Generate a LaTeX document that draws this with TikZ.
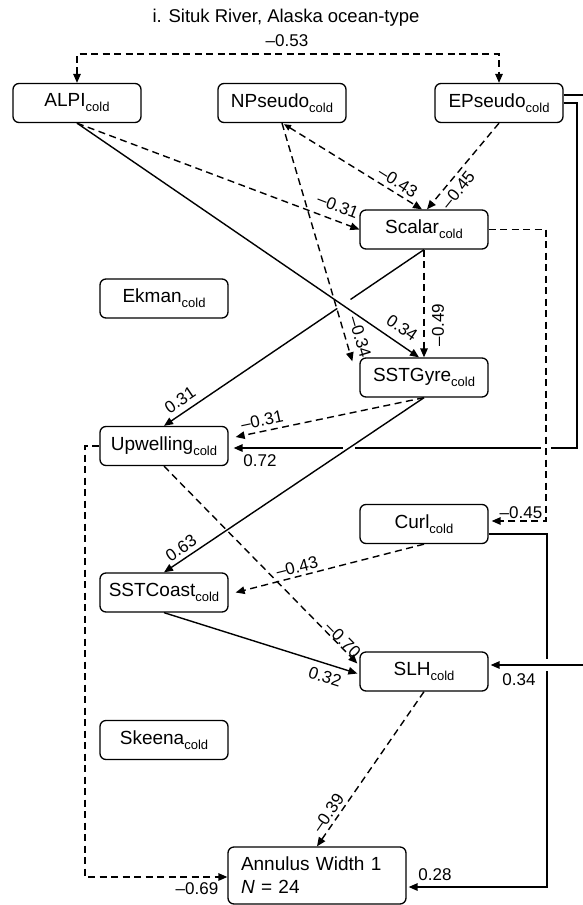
\documentclass[tikz,border=0pt]{standalone}
\usepackage{fontspec}
\setmainfont{Liberation Sans}
\usetikzlibrary{arrows.meta,calc}
\newcommand\cld{\raisebox{-5pt}{\fontsize{13}{13}\selectfont cold}}
\begin{document}
\begin{tikzpicture}[x=1pt,y=-1pt,
  box/.style={draw, line width=1.3pt, rounded corners=6pt, minimum width=128pt, minimum height=39pt, inner sep=0pt, font=\fontsize{19}{22}\selectfont},
  link/.style={line width=1.4pt, -{Triangle[length=9pt,width=7.5pt]}},
  dlink/.style={link, dash pattern=on 7pt off 4.5pt},
  lab/.style={font=\fontsize{17}{17}\selectfont, inner sep=0pt},
  gap/.style={draw=white, line width=5pt},
]
\useasboundingbox (0,0) rectangle (583,905);
\fill[white] (0,0) rectangle (583,905);
\node[lab, font=\fontsize{18.5}{19}\selectfont] (title) at (286,18) {i. Situk River, Alaska ocean-type};
% nodes
\node[box] (alpi) at (77,103) {ALPI\cld};
\node[box] (np) at (282,103) {NPseudo\cld};
\node[box] (ep) at (499,103) {EPseudo\cld};
\node[box] (scalar) at (424,229.5) {Scalar\cld};
\node[box] (ekman) at (164,298.5) {Ekman\cld};
\node[box] (sstgyre) at (424,377.5) {SSTGyre\cld};
\node[box] (upw) at (164,446) {Upwelling\cld};
\node[box] (curl) at (424,524) {Curl\cld};
\node[box] (sstc) at (164,592.5) {SSTCoast\cld};
\node[box] (slh) at (424,671.5) {SLH\cld};
\node[box] (skeena) at (164,740) {Skeena\cld};
\node[box, minimum width=178pt, minimum height=57pt, text width=152pt, align=left, font=\fontsize{19}{23}\selectfont] (ann) at (317,875.5) {Annulus Width 1\\\textit{N} = 24};
% coordinates
\coordinate (ur) at (577,448);
\coordinate (cr) at (546,521);
\coordinate (ca) at (547,887);
\coordinate (er1) at (586,95);
\coordinate (er2) at (586,665);
\coordinate (ul) at (85,877);
% lines underneath bridges
\draw[link] (ep.east) -| (ur) -- ($(upw.east)+(5,2)$);
\draw[link] ($(curl.east)+(0,10)$) -| (ca) -- ($(ann.east)+(2,11.5)$);
\draw[link] (scalar.south) -- (upw.north);
\fill[white] (343,445) rectangle (355,451);
\fill[white] (541,445) rectangle (551,451);
\fill[white] (544,659) rectangle (550,671);
\draw[gap] ($(scalar.south)!0.283!(upw.north)$) -- ($(scalar.south)!0.333!(upw.north)$);
% other connectors
\draw[dlink, arrows={Triangle[length=9pt,width=7.5pt]-Triangle[length=9pt,width=7.5pt]}] (alpi.north) -- ++(0,-29) coordinate (bl) -- (bl -| ep.north) -- (ep.north);
\draw[dlink] (alpi.south) -- (scalar.west);
\draw[link] (alpi.south) -- ($(sstgyre.north)+(-5,0)$);
\draw[dlink, arrows={Triangle[length=7pt,width=6pt]-Triangle[length=9pt,width=7.5pt]}] ($(np.south)+(2,1)$) -- ($(scalar.north)+(-2,0)$);
\draw[dlink] (ep.south) -- ($(scalar.north)+(3,0)$);
\draw[dlink] (scalar.south) -- (sstgyre.north);
\draw[dlink] (np.south) -- ($(sstgyre.north west)+(-7,4)$);
\draw[dlink] (sstgyre.south) -- ($(upw.east)+(7,-9)$);
\draw[link] (sstgyre.south) -- (sstc.north);
\draw[dlink] (scalar.east) -| (cr) -- ($(curl.east)+(3,-3)$);
\draw[link] ($(ep.east)+(0,-8)$) -- (er1) -- (er2) -- ($(slh.east)+(2,-6.5)$);
\draw[link] (sstc.south) -- ($(slh.west)+(-2,2)$);
\draw[dlink] (upw.south) -- ($(slh.west)+(-2,-8)$);
\draw[dlink] (curl.south) -- ($(sstc.east)+(7,0)$);
\draw[dlink] (slh.south) -- (ann.north);
\draw[dlink] (upw.west) -- (upw.west -| ul) -- (ul) -- ($(ann.west)+(0,1.5)$);
% labels
\node[lab] (l53) at (287,41) {–0.53};
\node[lab, rotate=-21] (l31a) at (338,206) {–0.31};
\node[lab, rotate=-32] (l43a) at (398,182) {–0.43};
\node[lab, rotate=51] (l45a) at (458,190) {–0.45};
\node[lab, rotate=-34] (l34a) at (402,328) {0.34};
\node[lab, rotate=90] (l49) at (438,325) {–0.49};
\node[lab, rotate=-73.5] (l34b) at (360,337) {–0.34};
\node[lab, rotate=34] (l31b) at (180,400) {0.31};
\node[lab, rotate=12] (l31c) at (262,420) {–0.31};
\node[lab] (l72) at (260,461) {0.72};
\node[lab, rotate=34] (l63) at (181,548) {0.63};
\node[lab] (l45b) at (521,513) {–0.45};
\node[lab, rotate=14] (l43b) at (297,567) {–0.43};
\node[lab, rotate=-45.5] (l70) at (343,640) {–0.70};
\node[lab, rotate=-17.5] (l32) at (325,677) {0.32};
\node[lab] (l34c) at (519,680) {0.34};
\node[lab, rotate=55.5] (l39) at (328,813) {–0.39};
\node[lab] (l69) at (197,889) {–0.69};
\node[lab] (l28) at (435,875) {0.28};
\end{tikzpicture}
\end{document}
